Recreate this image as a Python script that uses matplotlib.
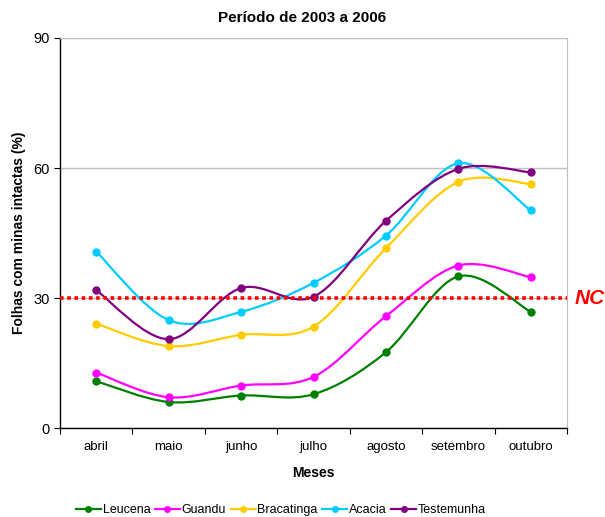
import numpy as np
import matplotlib
matplotlib.use('Agg')
import matplotlib.pyplot as plt
from matplotlib.path import Path
from matplotlib.patches import PathPatch
from matplotlib.lines import Line2D

plt.rcParams['font.family'] = ['Liberation Sans', 'DejaVu Sans']

# meses e series (% folhas com minas intactas)
meses = ['abril', 'maio', 'junho', 'julho', 'agosto', 'setembro', 'outubro']
leucena = [10.8, 6.0, 7.5, 7.8, 17.5, 35.0, 26.8]
guandu = [12.8, 7.1, 9.8, 11.8, 25.8, 37.5, 34.8]
bracatinga = [24.1, 18.9, 21.5, 23.4, 41.5, 56.8, 56.3]
acacia = [40.7, 24.9, 26.8, 33.5, 44.4, 61.1, 50.2]
testemunha = [31.8, 20.5, 32.3, 30.3, 47.8, 59.8, 59.0]
nc = 30

series = [('Leucena', leucena, '#008000'),
          ('Guandu', guandu, '#FF00FF'),
          ('Bracatinga', bracatinga, '#FFCC00'),
          ('Acacia', acacia, '#00CCFF'),
          ('Testemunha', testemunha, '#800080')]


def smooth_path(xs, ys):
    # curva suavizada tipo Excel (bezier cubica, Catmull-Rom)
    pts = np.column_stack([xs, ys]).astype(float)
    n = len(pts)
    verts = [pts[0]]
    codes = [Path.MOVETO]
    for i in range(n - 1):
        p0 = pts[i - 1] if i > 0 else pts[i]
        p1 = pts[i]
        p2 = pts[i + 1]
        p3 = pts[i + 2] if i + 2 < n else pts[i + 1]
        c1 = p1 + (p2 - p0) / 6
        c2 = p2 - (p3 - p1) / 6
        verts += [c1, c2, p2]
        codes += [Path.CURVE4] * 3
    return Path(verts, codes)


fig = plt.figure(figsize=(6.05, 5.17), dpi=100)
ax = fig.add_axes([0.0992, 0.1721, 0.8380, 0.7544])

x = np.arange(len(meses))
handles = []
for nome, vals, cor in series:
    ax.add_patch(PathPatch(smooth_path(x, vals), fill=False, edgecolor=cor,
                           lw=1.6, zorder=3))
    ax.plot(x, vals, ls='none', marker='o', ms=5, color=cor, zorder=4)
    handles.append(Line2D([], [], color=cor, lw=1.6, marker='o', ms=4, label=nome))

ax.axhline(nc, color='#FF0000', lw=2.6, ls=(0, (1, 1)), zorder=5)
fig.text(0.949, 1 - 298 / 517, 'NC', color='#FF0000', fontsize=15,
         fontweight='bold', style='italic', va='center', ha='left')

ax.set_xlim(-0.5, 6.5)
ax.set_ylim(0, 90)
ax.set_yticks([0, 30, 60, 90])
ax.tick_params(axis='y', labelsize=10.5, length=4, width=0.8, direction='out')
ax.set_xticks(np.arange(-0.5, 7, 1))
ax.set_xticklabels([])
ax.set_xticks(x, minor=True)
ax.set_xticklabels(meses, minor=True)
ax.tick_params(axis='x', which='major', length=4, width=0.8, direction='out')
ax.tick_params(axis='x', which='minor', length=0, labelsize=9.5, pad=9)

ax.grid(axis='y', color='#c0c0c0', lw=1)
ax.set_axisbelow(True)
for s in ['top', 'right']:
    ax.spines[s].set_color('#c0c0c0')
for s in ['left', 'bottom']:
    ax.spines[s].set_color('black')
    ax.spines[s].set_linewidth(1)

ax.set_xlabel('Meses', fontsize=10, fontweight='bold', labelpad=10)
ax.set_ylabel('Folhas com minas intactas (%)', fontsize=10, fontweight='bold', labelpad=5)
fig.text(0.5, 1 - 18 / 517, 'Período de 2003 a 2006', ha='center', va='center',
         fontsize=11, fontweight='bold')

fig.legend(handles=handles, loc='center', ncol=5, frameon=False, fontsize=9,
           bbox_to_anchor=(281 / 605, 1 - 510 / 517), handlelength=2.0,
           handletextpad=0.15, columnspacing=0.35)

fig.savefig('out.png', dpi=100, facecolor='white')
